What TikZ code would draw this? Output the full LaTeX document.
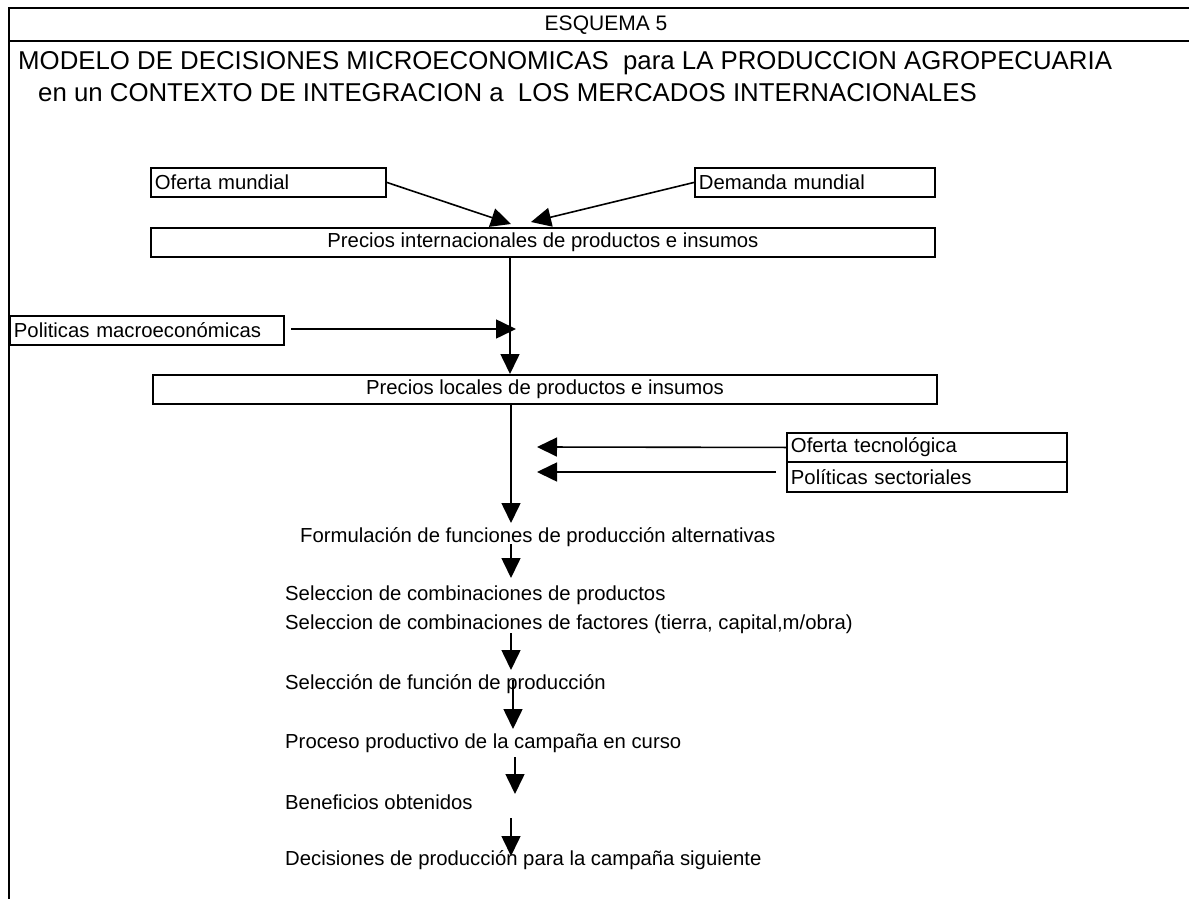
\documentclass[tikz,border=0pt]{standalone}
\usepackage{fontspec}
\setmainfont{Liberation Sans}
\usetikzlibrary{arrows.meta}
\begin{document}
\begin{tikzpicture}[x=1pt,y=-1pt,
  frameline/.style={line width=1.8pt},
  boxl/.style={draw, line width=1.9pt, minimum height=29pt, inner xsep=4pt, inner ysep=0pt, align=left, anchor=north west, font=\fontsize{20.3}{23}\selectfont},
  boxc/.style={draw, line width=1.9pt, minimum height=29pt, inner xsep=0pt, inner ysep=0pt, align=center, anchor=north west, font=\fontsize{20.3}{23}\selectfont},
  lbl/.style={font=\fontsize{20.3}{23}\selectfont, inner sep=0pt, anchor=west},
  ttl/.style={font=\fontsize{25.8}{29}\selectfont, inner sep=0pt, anchor=west},
  conn/.style={line width=1.6pt, -{Triangle[length=20pt,width=19pt]}},
]
\useasboundingbox (0,0) rectangle (1189,899);
% frame
\draw[frameline] (1189,8) -- (9,8) -- (9,899);
\draw[frameline] (9,41) -- (1189,41);
\node[font=\fontsize{21}{24}\selectfont, inner sep=0pt] (esq) at (606,25) {ESQUEMA 5};
\node[ttl] (t1) at (18,63) {MODELO DE DECISIONES MICROECONOMICAS\ \ para LA PRODUCCION AGROPECUARIA};
\node[ttl] (t2) at (38,93) {en un CONTEXTO DE INTEGRACION a\ \ LOS MERCADOS INTERNACIONALES};
% boxes
\node[boxl, text width=227pt] (ofm) at (150,167) {Oferta mundial};
\node[boxl, text width=232pt] (dem) at (694,167) {Demanda mundial};
\node[boxc, minimum width=784pt] (pin) at (150,227) {Precios internacionales de productos e insumos};
\node[boxl, text width=266pt] (pma) at (9,315) {Politicas macroeconómicas};
\node[boxc, minimum width=784pt] (plo) at (152,374) {Precios locales de productos e insumos};
\node[boxl, text width=272pt] (otec) at (786,432) {Oferta tecnológica};
\node[boxl, text width=272pt, minimum height=30pt] (psec) at (786,461) {Políticas sectoriales};
% flow texts
\node[lbl] (f1) at (300,537) {Formulación de funciones de producción alternativas};
\node[lbl] (f2) at (285,595) {Seleccion de combinaciones de productos};
\node[lbl] (f3) at (285,624) {Seleccion de combinaciones de factores (tierra, capital,m/obra)};
\node[lbl] (f4) at (285,684) {Selección de función de producción};
\node[lbl] (f5) at (285,743) {Proceso productivo de la campaña en curso};
\node[lbl] (f6) at (285,802) {Beneficios obtenidos};
\node[lbl] (f7) at (285,860) {Decisiones de producción para la campaña siguiente};
% coordinates
\coordinate (pinA) at (511,224);
\coordinate (pinB) at (531,222);
\coordinate (vx) at (510,0);
\coordinate (macT) at (516,329);
\coordinate (locT) at (511,523);
\coordinate (tecT) at (537,447);
\coordinate (secT) at (537,472);
\coordinate (secS) at (776,472);
\coordinate (maS) at (291,329);
% connectors
\draw[conn] (ofm.east) -- (pinA);
\draw[conn] (dem.west) -- (pinB);
\draw[conn] (pin.south -| vx) -- (plo.north -| vx);
\draw[conn] (maS) -- (macT);
\draw[conn] (plo.south -| locT) -- (locT);
\draw[conn] (otec.west) -- (tecT);
\draw[conn] (secS) -- (secT);
\coordinate (a1s) at (511,544); \coordinate (a1t) at (511,578);
\coordinate (a2s) at (511,633); \coordinate (a2t) at (511,670);
\coordinate (a3s) at (513,680); \coordinate (a3t) at (513,729);
\coordinate (a4s) at (515,757); \coordinate (a4t) at (515,794);
\coordinate (a5s) at (511,818); \coordinate (a5t) at (511,856);
\draw[conn] (a1s) -- (a1t);
\draw[conn] (a2s) -- (a2t);
\draw[conn] (a3s) -- (a3t);
\draw[conn] (a4s) -- (a4t);
\draw[conn] (a5s) -- (a5t);
\end{tikzpicture}
\end{document}
